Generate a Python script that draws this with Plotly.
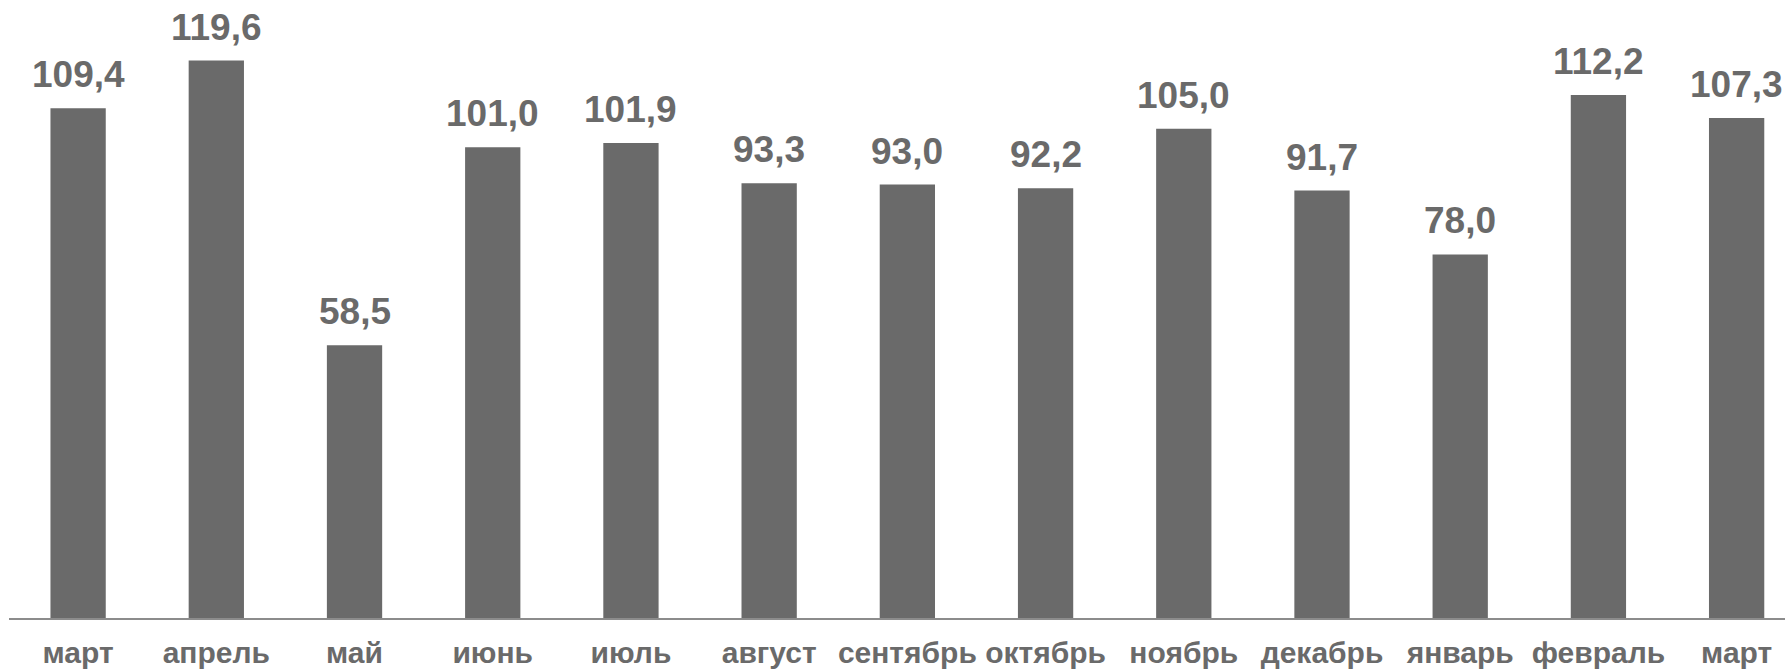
import plotly.graph_objects as go

months = ["март", "апрель", "май", "июнь", "июль", "август", "сентябрь",
          "октябрь", "ноябрь", "декабрь", "январь", "февраль", "март"]
values = [109.4, 119.6, 58.5, 101.0, 101.9, 93.3, 93.0, 92.2, 105.0, 91.7, 78.0, 112.2, 107.3]

positions = list(range(len(months)))
labels = [f"{v:.1f}".replace(".", ",") for v in values]

GRAY = "#6a6a6a"
FONT = "Liberation Sans, Arial, sans-serif"

fig = go.Figure(go.Bar(
    x=positions,
    y=values,
    width=0.4,
    marker=dict(color=GRAY, line=dict(width=0)),
    cliponaxis=False,
    hoverinfo="skip",
))

for xp, v, lab in zip(positions, values, labels):
    fig.add_annotation(
        x=xp, y=v, xref="x", yref="y",
        text=lab, showarrow=False,
        xanchor="center", yanchor="bottom", yshift=11,
        font=dict(family=FONT, size=37, color=GRAY, weight="bold"),
    )

fig.update_layout(
    width=1785, height=670,
    margin=dict(l=9, r=0, t=0, b=52, autoexpand=False),
    paper_bgcolor="white", plot_bgcolor="white",
    showlegend=False,
    xaxis=dict(
        range=[-0.5, 12.35],
        tickmode="array", tickvals=positions, ticktext=months,
        showgrid=False, zeroline=False,
        showline=True, linecolor="#8c8c8c", linewidth=1.5,
        ticks="", automargin=False,
        ticklabelstandoff=7,
        tickfont=dict(family=FONT, size=30, color=GRAY, weight="bold"),
    ),
    yaxis=dict(
        range=[0, 132.6],
        visible=False, showgrid=False, zeroline=False,
    ),
)

fig.write_html(
    "out.html",
    config={"displayModeBar": False},
    post_script=(
        "document.body.style.margin='0';"
        "document.body.style.overflow='hidden';"
        "document.documentElement.style.overflow='hidden';"
    ),
)
